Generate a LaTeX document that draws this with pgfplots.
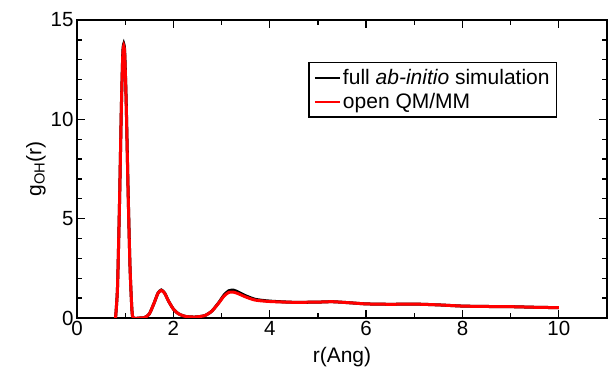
\documentclass[border=0pt]{standalone}
\usepackage{fontspec}
\setmainfont{Liberation Sans}
\usepackage{pgfplots}
\pgfplotsset{compat=1.18}
\begin{document}
\begin{tikzpicture}
\begin{axis}[
  scale only axis, width=530pt, height=298pt,
  xmin=0, xmax=11, ymin=0, ymax=15,
  xtick={0,2,4,6,8,10}, ytick={0,5,10,15},
  minor x tick num=1, minor y tick num=4,
  tick align=inside, tick pos=both,
  major tick length=8pt, minor tick length=5pt,
  axis line style={line width=1.6pt},
  every tick/.style={line width=1.3pt, black},
  tick label style={font=\fontsize{20.5}{24}\selectfont},
  label style={font=\fontsize{21}{24}\selectfont},
  /pgf/number format/assume math mode=true,
  xlabel={r(Ang)}, ylabel={g\textsubscript{OH}(r)},
  xlabel style={yshift=-4pt},
  ylabel style={yshift=-2pt},
  legend cell align=left,
  legend style={at={(0.906,0.859)}, anchor=north east, draw=black, line width=1.2pt,
    font=\fontsize{21}{24}\selectfont, inner xsep=5pt, inner ysep=5pt, row sep=3pt},
  legend image code/.code={\draw[#1, line width=2pt] (0pt,0pt) -- (25pt,0pt);},
  clip=true,
]
\addplot[black, line width=3pt, smooth, tension=0.4] coordinates {
(0.80,0) (0.84,1.5) (0.88,5.5) (0.92,10.5) (0.95,13.3) (0.97,13.8) (0.99,13.4)
(1.02,11.0) (1.06,6.5) (1.10,2.6) (1.14,0.4) (1.17,0) (1.30,0) (1.40,0.02)
(1.50,0.2) (1.60,0.75) (1.68,1.25) (1.75,1.41) (1.82,1.25) (1.90,0.85) (2.00,0.45)
(2.10,0.22) (2.25,0.08) (2.45,0.05) (2.65,0.12) (2.80,0.35) (2.95,0.8) (3.05,1.15)
(3.15,1.37) (3.25,1.40) (3.35,1.30) (3.5,1.12) (3.7,0.94) (4.0,0.85) (4.5,0.79)
(5.0,0.80) (5.3,0.82) (5.7,0.76) (6.0,0.71) (6.5,0.69) (7.0,0.70) (7.5,0.66)
(8.0,0.60) (8.5,0.58) (9.0,0.57) (9.5,0.54) (10.0,0.52)
};
\addlegendentry{full \textit{ab-initio} simulation}
\addplot[red, line width=3pt, smooth, tension=0.4] coordinates {
(0.80,0) (0.84,1.5) (0.88,5.5) (0.92,10.5) (0.95,13.2) (0.97,13.7) (0.99,13.3)
(1.02,10.9) (1.06,6.4) (1.10,2.6) (1.14,0.4) (1.17,0) (1.30,0) (1.40,0.02)
(1.50,0.2) (1.60,0.75) (1.68,1.24) (1.75,1.39) (1.82,1.24) (1.90,0.85) (2.00,0.45)
(2.10,0.22) (2.25,0.08) (2.45,0.05) (2.65,0.12) (2.80,0.35) (2.95,0.78) (3.05,1.10)
(3.15,1.29) (3.25,1.30) (3.35,1.22) (3.5,1.06) (3.7,0.90) (4.0,0.83) (4.5,0.79)
(5.0,0.80) (5.3,0.82) (5.7,0.76) (6.0,0.71) (6.5,0.69) (7.0,0.70) (7.5,0.66)
(8.0,0.60) (8.5,0.58) (9.0,0.57) (9.5,0.54) (10.0,0.52)
};
\addlegendentry{open QM/MM}
\end{axis}
\pgfresetboundingbox
\path ([shift={(-77pt,-51pt)}]current axis.south west) rectangle ([shift={(1pt,20pt)}]current axis.north east);
\end{tikzpicture}
\end{document}
